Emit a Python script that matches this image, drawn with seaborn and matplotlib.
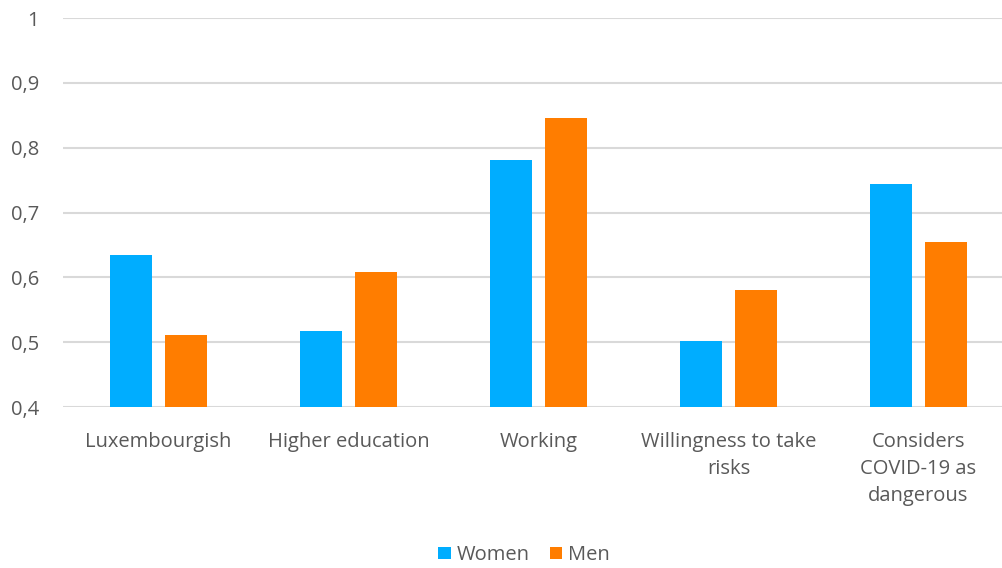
import matplotlib
matplotlib.use("Agg")
import matplotlib.pyplot as plt
import matplotlib.ticker as mticker
from matplotlib.patches import Patch
import seaborn as sns
import pandas as pd

categories = ["Luxembourgish", "Higher education", "Working",
              "Willingness to take\nrisks", "Considers\nCOVID-19 as\ndangerous"]
women = [0.635, 0.517, 0.781, 0.502, 0.744]
men = [0.512, 0.609, 0.846, 0.580, 0.654]
series = ["Women", "Men"]
colors = {"Women": "#00ADFF", "Men": "#FF7D00"}
yticks = [0.4, 0.5, 0.6, 0.7, 0.8, 0.9, 1.0]

df = pd.DataFrame({
    "category": categories * 2,
    "group": ["Women"] * len(categories) + ["Men"] * len(categories),
    "value": women + men,
})

sns.set_theme(style="white")
plt.rcParams["font.family"] = ["Open Sans", "DejaVu Sans"]

FS = 14.5
fig = plt.figure(figsize=(10.02, 5.68), dpi=100)
ax = fig.add_axes([63.5 / 1002, 160.8 / 568, 950 / 1002, 389.2 / 568])

sns.barplot(data=df, x="category", y="value", hue="group", hue_order=series,
            palette=colors, width=0.58, gap=0.224, ax=ax, legend=False,
            saturation=1, linewidth=0)

ax.set_ylim(0.4, 1.0)
ax.set_xlim(-0.5, len(categories) - 0.5)
ax.set_yticks(yticks)
ax.yaxis.set_major_formatter(mticker.FuncFormatter(
    lambda v, _: ("%g" % round(v, 2)).replace(".", ",")))
ax.grid(axis="y", color="#D9D9D9", linewidth=1.5)
ax.set_axisbelow(True)
for s in ax.spines.values():
    s.set_visible(False)
ax.set_xlabel("")
ax.set_ylabel("")
ax.tick_params(axis="y", length=0, pad=17.5, labelsize=FS, labelcolor="#595959")
ax.tick_params(axis="x", length=0, pad=18, labelsize=FS, labelcolor="#595959")
for lbl in ax.get_xticklabels():
    lbl.set_linespacing(1.45)
    lbl.set_verticalalignment("top")

handles = [Patch(facecolor=colors[s], edgecolor="none", label=s) for s in series]
fig.legend(handles=handles, loc="center", bbox_to_anchor=(524 / 1002, 1 - 555 / 568),
           ncol=2, frameon=False, fontsize=FS, handlelength=0.6, handleheight=0.6,
           handletextpad=0.3, columnspacing=1.0, labelcolor="#595959")

fig.savefig("out.png", dpi=100)
